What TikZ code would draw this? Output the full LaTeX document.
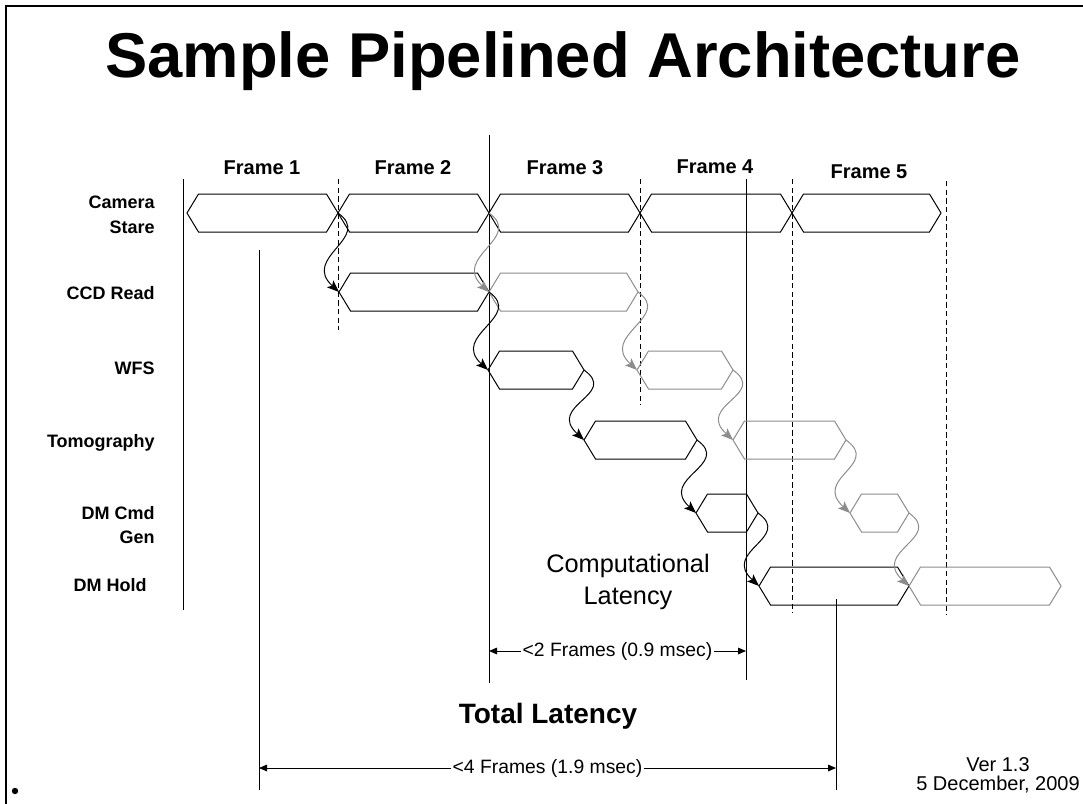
\documentclass[tikz,border=0pt]{standalone}
\usepackage{fontspec}
\setmainfont{Liberation Sans}
\usetikzlibrary{arrows.meta}

\definecolor{faded}{gray}{0.55}
\def\slant{11.5}
\def\halfh{19}

\tikzset{
  stage/.style={line width=0.75pt},
  rowlabel/.style={anchor=east, align=right, inner sep=0pt, font=\bfseries\fontsize{13.5}{18.5}\selectfont},
  framelabel/.style={font=\bfseries\fontsize{15}{18}\selectfont},
  handoff/.style={line width=0.75pt, -{Stealth[length=9pt,width=7pt,inset=2pt]}},
  marker/.style={line width=0.75pt},
  tick/.style={line width=0.75pt, dash pattern=on 4pt off 2.5pt},
  span/.style={line width=0.75pt, {Triangle[length=6pt,width=5pt]}-{Triangle[length=6pt,width=5pt]}},
  spanlabel/.style={fill=white, inner sep=1.5pt, font=\fontsize{14.5}{17}\selectfont},
  note/.style={anchor=base, font=\fontsize{15}{18}\selectfont},
}

\begin{document}
\begin{tikzpicture}[x=0.75pt,y=-0.75pt]
  \useasboundingbox (0,0) rectangle (1083,804);
  % slide border and bullet
  \draw[line width=2.2pt] (6,804) -- (6,6) -- (1083,6);
  \fill (15,791) circle (3.2);
  \node[anchor=base, font=\bfseries\fontsize{47.5}{52}\selectfont] (title) at (563,77) {Sample Pipelined Architecture};

  % frame headings
  \foreach \n/\x/\y in {1/262/168, 2/413/168, 3/565/168, 4/715/167, 5/869/172}
    \node[framelabel] (frame\n) at (\x,\y) {Frame \n};

  % row labels
  \node[rowlabel] (lcam) at (155,215) {Camera\\Stare};
  \node[rowlabel] (lccd) at (155,293) {CCD Read};
  \node[rowlabel] (lwfs) at (155,368) {WFS};
  \node[rowlabel] (ltom) at (155,443) {Tomography};
  \node[rowlabel] (lcmd) at (155,525) {DM Cmd\\Gen};
  \node[rowlabel] (lhold) at (147,585) {DM Hold};

  % frame boundaries (solid and dashed)
  \foreach \x/\ya/\yb in {183/179/610, 259/250/790, 489/135/683, 746/179/680, 836/599/790}
    \draw[marker] (\x,\ya) -- (\x,\yb);
  \foreach \x/\ya/\yb in {338/179/330, 640/179/405, 792/179/613, 946/181/615}
    \draw[tick] (\x,\ya) -- (\x,\yb);

  % pipeline stages: name / left tip / right tip / row / colour
  \foreach \name/\xl/\xr/\y/\col in {
      cs1/187/338/213/black, cs2/338/489/213/black, cs3/489/640/213/black,
      cs4/640/792/213/black, cs5/792/941/213/black,
      ccd1/339/489/292/black, ccd2/489/638/292/faded,
      wfs1/488/584/370/black, wfs2/637/733/370/faded,
      tom1/584/697/440/black, tom2/733/846/440/faded,
      cmd1/696/758/513/black, cmd2/850/909/513/faded,
      hold1/759/909/586/black, hold2/909/1061/586/faded} {
      \draw[stage,\col] (\xl,\y) -- (\xl+\slant,\y-\halfh) -- (\xr-\slant,\y-\halfh)
        -- (\xr,\y) -- (\xr-\slant,\y+\halfh) -- (\xl+\slant,\y+\halfh) -- cycle;
      \coordinate (\name-w) at (\xl,\y);
      \coordinate (\name-e) at (\xr,\y);
    }

  % hand-offs from one stage to the next
  \foreach \src/\dst/\col in {
      cs1/ccd1/black, ccd1/wfs1/black, wfs1/tom1/black, tom1/cmd1/black, cmd1/hold1/black,
      cs2/ccd2/faded, ccd2/wfs2/faded, wfs2/tom2/faded, tom2/cmd2/faded, cmd2/hold2/faded}
    \draw[handoff,\col] (\src-e) .. controls +(35,25) and +(-38,-35) .. (\dst-w);

  % latency spans
  \node[align=center, font=\fontsize{19}{24}\selectfont] (complat) at (628,582) {Computational\\Latency};
  \coordinate (comp-a) at (489,651);
  \coordinate (comp-b) at (746,651);
  \draw[span] (comp-a) -- node[spanlabel] (complabel) {<2 Frames (0.9 msec)} (comp-b);

  \node[font=\bfseries\fontsize{21}{25}\selectfont] (totlat) at (548,716) {Total Latency};
  \coordinate (tot-a) at (259,768);
  \coordinate (tot-b) at (836,768);
  \draw[span] (tot-a) -- node[spanlabel] (totlabel) {<4 Frames (1.9 msec)} (tot-b);

  \node[note] (version) at (998,771) {Ver 1.3};
  \node[note] (date) at (998,790) {5 December, 2009};
\end{tikzpicture}
\end{document}
